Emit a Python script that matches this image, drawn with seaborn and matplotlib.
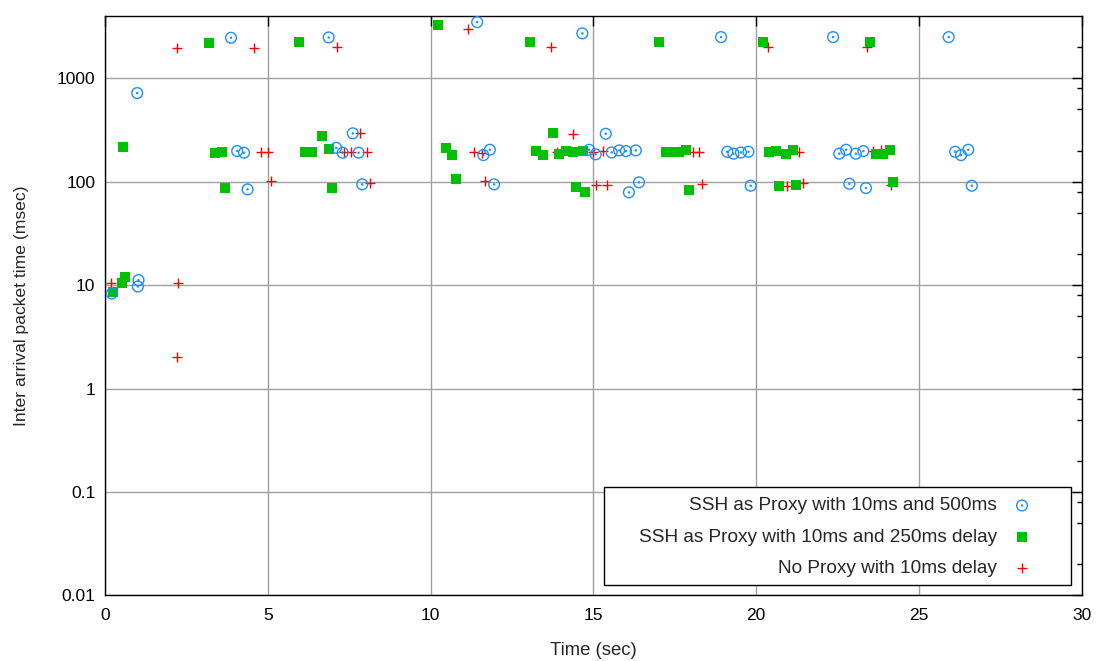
import numpy as np
import matplotlib
matplotlib.use("Agg")
import matplotlib.pyplot as plt
import seaborn as sns
from matplotlib.path import Path
from matplotlib.patches import Rectangle
from matplotlib.ticker import FixedLocator, LogLocator, FuncFormatter, NullFormatter
from matplotlib.legend_handler import HandlerPathCollection

# SSH as proxy, 10ms and 500ms (blue dotted circles)
ssh500_t = [0.21, 1.03, 1.01, 0.99, 3.87, 4.06, 4.27, 4.38, 6.87, 7.10, 7.30, 7.61, 7.79, 7.90,
            11.43, 11.62, 11.82, 11.95, 14.66, 14.87, 15.07, 15.38, 15.56, 15.79, 16.00, 16.09,
            16.30, 16.40, 18.92, 19.11, 19.30, 19.53, 19.76, 19.83, 22.36, 22.55, 22.76, 22.86,
            23.06, 23.29, 23.37, 25.91, 26.11, 26.29, 26.51, 26.62]
ssh500_ms = [8.3, 11.2, 9.7, 721, 2470, 198, 191, 84.4, 2490, 213, 191, 294, 191, 94.4,
             3500, 181, 204, 94.4, 2724, 204, 184, 291, 192, 201, 198, 79,
             201, 98.7, 2507, 195, 187, 192, 195, 91.5, 2507, 187, 204, 95.6,
             187, 198, 86.9, 2507, 195, 181, 204, 91.5]

# SSH as proxy, 10ms and 250ms delay (green squares)
ssh250_t = [0.25, 0.51, 0.61, 0.55, 3.19, 3.38, 3.59, 3.69, 5.96, 6.14, 6.37, 6.66, 6.87, 6.97,
            10.24, 10.47, 10.65, 10.77, 13.05, 13.24, 13.44, 13.75, 13.93, 14.16, 14.38, 14.46,
            14.67, 14.74, 17.01, 17.22, 17.42, 17.63, 17.83, 17.94, 20.20, 20.40, 20.61, 20.92,
            21.12, 20.71, 21.22, 23.49, 23.67, 23.90, 24.10, 24.19]
ssh250_ms = [8.5, 10.4, 12.0, 217, 2210, 191, 195, 86.3, 2259, 195, 195, 279, 206, 86.3,
             3278, 210, 181, 105.5, 2259, 198, 181, 294, 184, 198, 195, 88.3,
             198, 80, 2259, 195, 192, 195, 203, 83.1, 2259, 192, 198, 185,
             201, 91.5, 92.9, 2259, 184, 187, 201, 100]

# No proxy, 10ms delay (red plus)
noproxy_t = [0.18, 2.22, 2.24, 2.21, 4.59, 4.79, 5.02, 5.11, 7.12, 7.35, 7.55, 7.83, 8.04, 8.14,
             11.16, 11.33, 11.59, 11.67, 13.69, 13.89, 14.38, 14.98, 15.30, 15.08, 15.43,
             18.07, 18.25, 18.34, 20.35, 21.32, 20.94, 21.45, 23.41, 23.60, 23.82, 24.13]
noproxy_ms = [10.6, 1977, 10.6, 2.0, 1977, 192, 192, 101.6, 2021, 195, 192, 294, 195, 96.5,
              3000, 192, 188, 101.6, 1994, 192, 289, 192, 198, 92.9, 92.9,
              192, 192, 95.5, 1994, 195, 91.5, 96.5, 1994, 199, 202, 93]

labels = ["SSH as Proxy with 10ms and 500ms",
          "SSH as Proxy with 10ms and 250ms delay",
          "No Proxy with 10ms delay"]
x_ticks = [0, 5, 10, 15, 20, 25, 30]
y_ticks = [0.01, 0.1, 1, 10, 100, 1000]

sns.set_style("white")
plt.rcParams['font.family'] = ['Liberation Sans', 'DejaVu Sans']

fig = plt.figure(figsize=(10.98, 6.61), dpi=100)
ax = fig.add_axes([0.0956, 0.0994, 0.8897, 0.8762])

# circle with a dot in the middle, like gnuplot's point
dot_circle = Path.make_compound_path(Path.unit_circle(), Path.circle((0, 0), 0.1))

sns.scatterplot(x=noproxy_t, y=noproxy_ms, marker='+', color='#ff0000', s=52,
                linewidth=1.0, ax=ax, zorder=3)
sns.scatterplot(x=ssh250_t, y=ssh250_ms, marker='s', color='#00c000', s=55,
                linewidth=0, ax=ax, zorder=4)
sns.scatterplot(x=ssh500_t, y=ssh500_ms, marker=dot_circle, color='#1e8fff',
                facecolor='none', edgecolor='#1e8fff', s=60, linewidth=1.0, ax=ax, zorder=5)

ax.set_yscale('log')
ax.set_xlim(0, 30)
ax.set_ylim(0.01, 4000)
ax.xaxis.set_major_locator(FixedLocator(x_ticks))
ax.yaxis.set_major_locator(FixedLocator(y_ticks))
ax.yaxis.set_minor_locator(LogLocator(base=10, subs=(2, 5, 8)))
ax.yaxis.set_minor_formatter(NullFormatter())
ax.yaxis.set_major_formatter(FuncFormatter(lambda v, p: '%g' % v))

ax.tick_params(which='both', direction='in', top=True, right=True, color='black',
               width=1, labelsize=12.5, labelcolor='black')
ax.tick_params(which='major', length=7)
ax.tick_params(which='minor', length=3.8)
ax.tick_params(axis='x', pad=9)
ax.tick_params(axis='y', pad=7)

ax.grid(True, which='major', color='#a0a0a0', linewidth=1)
ax.set_axisbelow(True)
for sp in ax.spines.values():
    sp.set_color('black')
    sp.set_linewidth(1.0)

ax.set_xlabel('Time (sec)', fontsize=13.3, labelpad=14)
ax.set_ylabel('Inter arrival packet time (msec)', fontsize=12.6, labelpad=20)

# gnuplot-style key box, wider than the entries
ax.add_patch(Rectangle((0.511, 0.018), 0.478, 0.169, transform=ax.transAxes,
                       facecolor='white', edgecolor='black', linewidth=1.0, zorder=6))

h = ax.collections
hm = {c: HandlerPathCollection(xpad=-0.96) for c in h}
leg = ax.legend([h[2], h[1], h[0]], labels, loc='lower right',
                bbox_to_anchor=(0.989, 0.018), markerfirst=False, frameon=False,
                fontsize=13.7, handlelength=3.4, handletextpad=0.1, borderpad=0.4,
                labelspacing=0.74, borderaxespad=0, handler_map=hm)
leg.set_zorder(7)
leg._legend_handle_box.get_children()[0].align = 'right'

fig.savefig('out.png', dpi=100)
